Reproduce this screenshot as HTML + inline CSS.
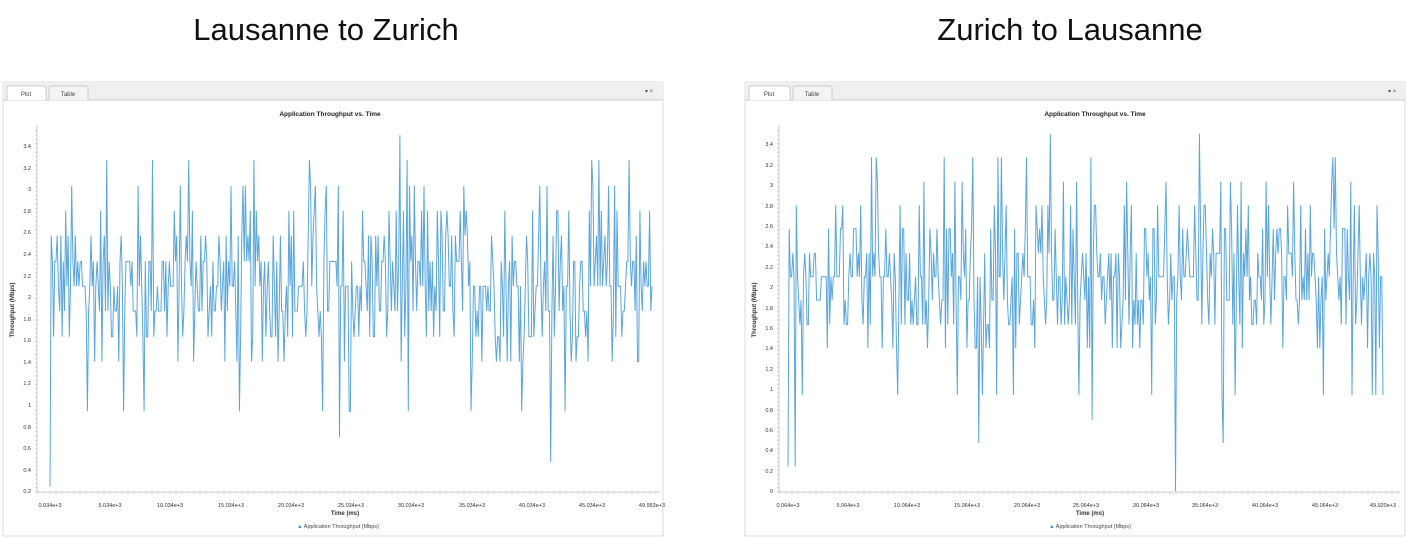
<!DOCTYPE html>
<html><head><meta charset="utf-8"><style>
html,body{margin:0;padding:0;background:#fff;width:1406px;height:539px;overflow:hidden;font-family:"Liberation Sans",sans-serif}
svg{position:absolute;left:0;top:0}
</style></head><body>
<svg width="1406" height="539" xmlns="http://www.w3.org/2000/svg" font-family="Liberation Sans, sans-serif">
<text x="326" y="40" font-size="31" text-anchor="middle" fill="#111">Lausanne to Zurich</text>
<text x="1070" y="40" font-size="31" text-anchor="middle" fill="#111">Zurich to Lausanne</text>
<!-- left panel -->
<rect x="3" y="82" width="660" height="454" fill="#fff" stroke="#ddd"/>
<rect x="3" y="82" width="660" height="18" fill="#f0f0f0"/>
<line x1="3" y1="100" x2="663" y2="100" stroke="#ccc"/>
<path d="M7 100 V88 Q7 86 9 86 H44 Q46 86 46 88 V100" fill="#fff" stroke="#ccc"/>
<path d="M49 100 V88 Q49 86 51 86 H86 Q88 86 88 88 V100" fill="#f4f4f4" stroke="#ccc"/>
<text x="26" y="96" font-size="6" text-anchor="middle" fill="#444">Plot</text>
<text x="68" y="96" font-size="6" text-anchor="middle" fill="#444">Table</text>
<text x="645" y="93" font-size="6" fill="#555">▾ ×</text>
<text x="330" y="116" font-size="6.5" font-weight="bold" text-anchor="middle" fill="#222">Application Throughput vs. Time</text>
<line x1="37" y1="125" x2="37" y2="492" stroke="#ccc"/>
<line x1="37" y1="492" x2="660" y2="492" stroke="#ccc"/>
<g id="lt" stroke="#ccc"></g>
<text x="14" y="310" font-size="6" font-weight="bold" fill="#333" transform="rotate(-90 14 310)" text-anchor="middle">Throughput (Mbps)</text>
<g font-size="5.5" fill="#333" text-anchor="middle">
<text x="50" y="507">0.034e+3</text><text x="110" y="507">5.034e+3</text><text x="170" y="507">10.034e+3</text><text x="231" y="507">15.034e+3</text><text x="291" y="507">20.034e+3</text><text x="351" y="507">25.034e+3</text><text x="411" y="507">30.034e+3</text><text x="472" y="507">35.034e+3</text><text x="532" y="507">40.034e+3</text><text x="592" y="507">45.034e+3</text><text x="652" y="507">49.953e+3</text>
</g>
<text x="345" y="515" font-size="6" font-weight="bold" text-anchor="middle" fill="#333">Time (ms)</text>
<text x="338" y="528" font-size="5.5" text-anchor="middle" fill="#444"><tspan fill="#3a8fd0">▲</tspan> Application Throughput (Mbps)</text>
<polyline id="l1" fill="none" stroke="#5aa6dc" stroke-width="1"/>
<!-- right panel -->
<rect x="745" y="82" width="660" height="454" fill="#fff" stroke="#ddd"/>
<rect x="745" y="82" width="660" height="18" fill="#f0f0f0"/>
<line x1="745" y1="100" x2="1405" y2="100" stroke="#ccc"/>
<path d="M749 100 V88 Q749 86 751 86 H788 Q790 86 790 88 V100" fill="#fff" stroke="#ccc"/>
<path d="M793 100 V88 Q793 86 795 86 H830 Q832 86 832 88 V100" fill="#f4f4f4" stroke="#ccc"/>
<text x="769" y="96" font-size="6" text-anchor="middle" fill="#444">Plot</text>
<text x="812" y="96" font-size="6" text-anchor="middle" fill="#444">Table</text>
<text x="1388" y="93" font-size="6" fill="#555">▾ ×</text>
<text x="1095" y="116" font-size="6.5" font-weight="bold" text-anchor="middle" fill="#222">Application Throughput vs. Time</text>
<line x1="779" y1="125" x2="779" y2="492" stroke="#ccc"/>
<line x1="779" y1="492" x2="1400" y2="492" stroke="#ccc"/>
<g id="rt" stroke="#ccc"></g>
<text x="756" y="310" font-size="6" font-weight="bold" fill="#333" transform="rotate(-90 756 310)" text-anchor="middle">Throughput (Mbps)</text>
<g font-size="5.5" fill="#333" text-anchor="middle">
<text x="788" y="507">0.064e+3</text><text x="848" y="507">5.064e+3</text><text x="907" y="507">10.064e+3</text><text x="967" y="507">15.064e+3</text><text x="1027" y="507">20.064e+3</text><text x="1086" y="507">25.064e+3</text><text x="1146" y="507">30.064e+3</text><text x="1205" y="507">35.064e+3</text><text x="1265" y="507">40.064e+3</text><text x="1325" y="507">45.064e+3</text><text x="1383" y="507">49.920e+3</text>
</g>
<text x="1090" y="515" font-size="6" font-weight="bold" text-anchor="middle" fill="#333">Time (ms)</text>
<text x="1090" y="528" font-size="5.5" text-anchor="middle" fill="#444"><tspan fill="#3a8fd0">▲</tspan> Application Throughput (Mbps)</text>
<polyline id="l2" fill="none" stroke="#5aa6dc" stroke-width="1"/>
<g font-size="5.5" fill="#333" text-anchor="end">
<text x="31" y="148">3.4</text><text x="31" y="170">3.2</text><text x="31" y="191">3</text><text x="31" y="213">2.8</text><text x="31" y="234">2.6</text><text x="31" y="256">2.4</text><text x="31" y="278">2.2</text><text x="31" y="299">2</text><text x="31" y="321">1.8</text><text x="31" y="342">1.6</text><text x="31" y="364">1.4</text><text x="31" y="385">1.2</text><text x="31" y="407">1</text><text x="31" y="429">0.8</text><text x="31" y="450">0.6</text><text x="31" y="472">0.4</text><text x="31" y="493">0.2</text>
</g>
<g font-size="5.5" fill="#333" text-anchor="end">
<text x="773" y="146">3.4</text><text x="773" y="167">3.2</text><text x="773" y="187">3</text><text x="773" y="208">2.8</text><text x="773" y="228">2.6</text><text x="773" y="248">2.4</text><text x="773" y="269">2.2</text><text x="773" y="289">2</text><text x="773" y="310">1.8</text><text x="773" y="330">1.6</text><text x="773" y="350">1.4</text><text x="773" y="371">1.2</text><text x="773" y="391">1</text><text x="773" y="412">0.8</text><text x="773" y="432">0.6</text><text x="773" y="452">0.4</text><text x="773" y="473">0.2</text><text x="773" y="493">0</text>
</g>
</svg>
<script>
function rng(s){return function(){s=(s*1103515245+12345)%2147483648;return s/2147483648;}}
var lv=[1.4,1.63,1.87,2.1,2.33,2.57,2.8,3.03,3.27];
var w=[4,10,14,18,14,9,4,3,1.2];
function pick(r){var t=0;for(var i=0;i<w.length;i++)t+=w[i];var x=r()*t;for(var i=0;i<w.length;i++){x-=w[i];if(x<=0)return lv[i];}return 2.1;}
function build(id,seed,x0,x1,yf,dips,n){
 var r=rng(seed),pts=[];
 for(var i=0;i<n;i++){
  var v=pick(r);
  if(r()<0.02)v=0.94;
  if(i<2)v=i==0?0.24:2.57;
  if(dips[i]!==undefined)v=dips[i];
  var x=x0+(x1-x0)*i/(n-1);
  pts.push(x.toFixed(1)+","+yf(v).toFixed(1));
 }
 document.getElementById(id).setAttribute("points",pts.join(" "));
}
function ticks(id,ax,x0,x1,ytop){
 var g=document.getElementById(id),s="";
 for(var y=492;y>=ytop;y-=4.3)s+='<line x1="'+(ax-2)+'" y1="'+y.toFixed(1)+'" x2="'+ax+'" y2="'+y.toFixed(1)+'"/>';
 for(var x=x0;x<=x1;x+=6)s+='<line x1="'+x.toFixed(1)+'" y1="492" x2="'+x.toFixed(1)+'" y2="494"/>';
 g.innerHTML=s;
}
ticks("lt",37,38,660,128);ticks("rt",779,780,1400,128);
build("l1",12345,50,652,function(v){return 491-(v-0.2)/3.2*345;},{290:3.5,240:0.7,415:0.47,85:3.27,115:3.27,215:3.27,455:3.27,480:3.27},500);
build("l2",777,788,1383,function(v){return 491-v/3.4*347;},{6:0.24,325:0,160:0.47,220:3.5,345:3.5,365:0.47,255:0.7,490:0.94,70:3.27,155:3.27,200:3.27},500);
</script>
</body></html>
